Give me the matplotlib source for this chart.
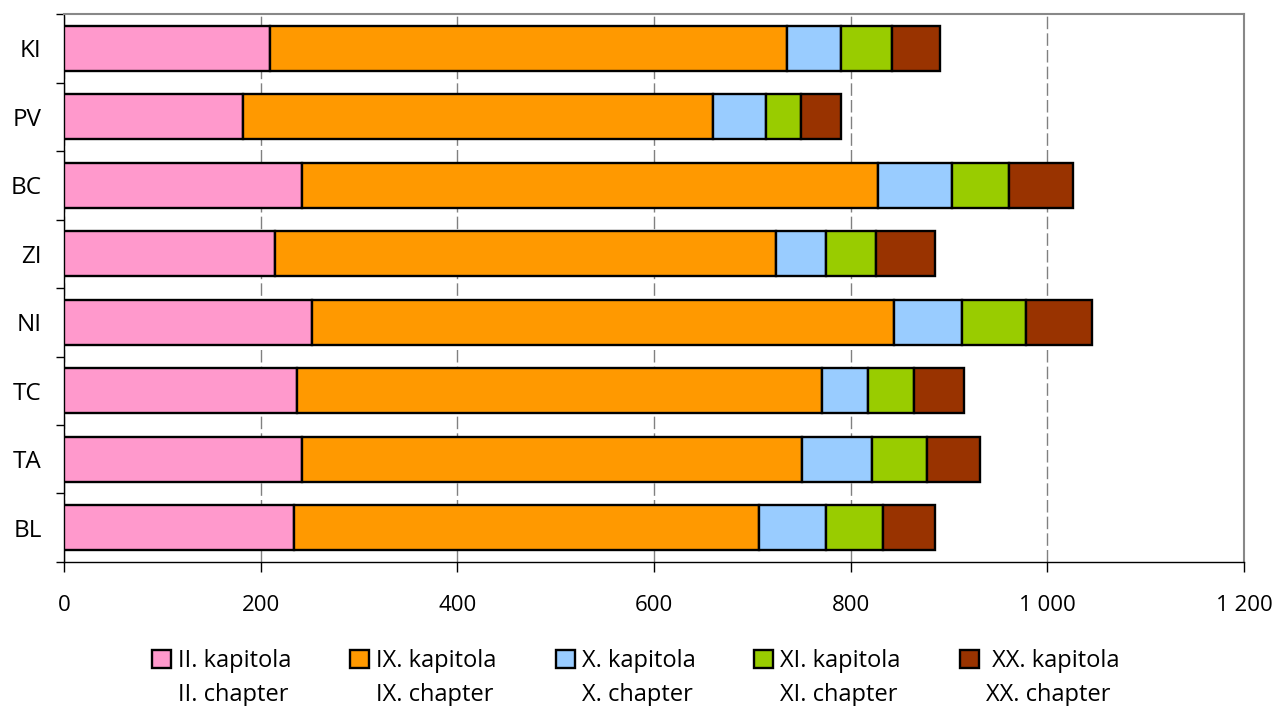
import numpy as np
import matplotlib
matplotlib.use("Agg")
import matplotlib.pyplot as plt

# data (segment lengths per text, top row first)
texts = ['KI', 'PV', 'BC', 'ZI', 'NI', 'TC', 'TA', 'BL']
ch_ii = [210, 182, 242, 215, 252, 237, 242, 234]
ch_ix = [525, 478, 586, 509, 592, 534, 509, 473]
ch_x = [55, 54, 75, 51, 69, 47, 71, 68]
ch_xi = [52, 36, 58, 51, 65, 46, 56, 58]
ch_xx = [49, 40, 65, 60, 67, 51, 54, 53]

labels_cz = ['II. kapitola', 'IX. kapitola', 'X. kapitola', 'XI. kapitola', ' XX. kapitola']
labels_en = ['II. chapter', 'IX. chapter', 'X. chapter', 'XI. chapter', 'XX. chapter']
colors = ['#FF99CC', '#FF9900', '#99CCFF', '#99CC00', '#993300']

plt.rcParams['font.family'] = ['Open Sans', 'DejaVu Sans']

fig = plt.figure(figsize=(12.79, 7.06), dpi=100)
ax = fig.add_axes([0.05, 0.204, 0.9226, 0.776])

series = [ch_ii, ch_ix, ch_x, ch_xi, ch_xx]
y = np.arange(len(texts))[::-1]
left = np.zeros(len(texts))
for vals, col, lab in zip(series, colors, labels_cz):
    ax.barh(y, vals, left=left, height=0.66, color=col, edgecolor='black',
            linewidth=1.7, label=lab, zorder=3)
    left += np.array(vals)

ax.set_xlim(0, 1200)
ax.set_ylim(-0.5, len(texts) - 0.5)
ticks = np.arange(0, 1201, 200)
ax.set_xticks(ticks)
ax.set_xticklabels([str(v) if v < 1000 else '1 %03d' % (v - 1000) for v in ticks])

# category labels at centres, ticks on the boundaries
ax.set_yticks(y)
ax.set_yticklabels(texts, fontsize=17.5)
ax.set_yticks(np.arange(-0.5, len(texts)), minor=True)
ax.tick_params(axis='y', which='major', length=0, pad=16)
ax.tick_params(axis='y', which='minor', length=6, width=1, direction='out')
ax.tick_params(axis='x', length=7, width=1, direction='out', pad=17, labelsize=16)

ax.grid(axis='x', color='#808080', linestyle=(0, (9, 3)), linewidth=1, zorder=0)
for side in ['top', 'right']:
    ax.spines[side].set_color('#888888')
    ax.spines[side].set_linewidth(1.5)
for side in ['left', 'bottom']:
    ax.spines[side].set_color('black')
    ax.spines[side].set_linewidth(1)

leg = fig.legend(loc='center', ncol=5, frameon=False, fontsize=17,
                 bbox_to_anchor=(0.497, 1 - 661 / 706), handlelength=0.8, handleheight=0.8,
                 handletextpad=0.3, columnspacing=2.5, borderaxespad=0)

# second line of each legend entry, left aligned under the first
fig.canvas.draw()
inv = fig.transFigure.inverted()
for t, en in zip(leg.get_texts(), labels_en):
    bb = t.get_window_extent()
    x0, y0 = inv.transform((bb.x0, bb.y0))
    fig.text(x0, y0 - 34 / 706, en, fontsize=17, ha='left', va='bottom')

fig.savefig('out.png', dpi=100)
